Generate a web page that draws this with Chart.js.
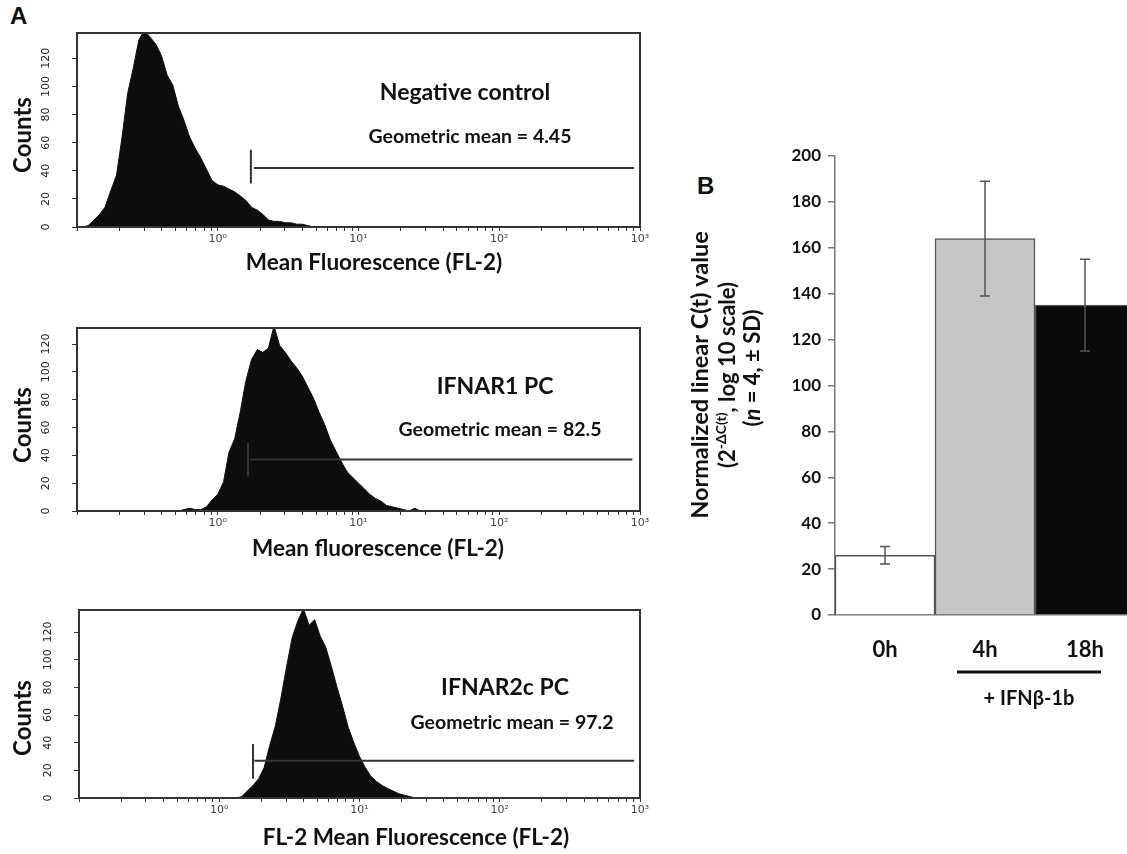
<!DOCTYPE html>
<html>
<head>
<meta charset="utf-8">
<script src="https://cdn.jsdelivr.net/npm/chart.js@4.4.1/dist/chart.umd.min.js"></script>
<style>
html, body { margin:0; padding:0; background:#fff; width:1127px; height:854px; overflow:hidden; }
canvas { position:absolute; }
.panel { position:absolute; font:bold 24px "Liberation Sans", Arial, sans-serif; color:#111; }
</style>
</head>
<body>
<div class="panel" style="left:10px;top:2px">A</div>
<div class="panel" style="left:697px;top:172px">B</div>
<canvas id="h1"></canvas>
<canvas id="h2"></canvas>
<canvas id="h3"></canvas>
<canvas id="bars"></canvas>
<script>
"use strict"

// ---- panel A: flow cytometry histograms (FL-2 channel, log scale) ----
var channels = [0.100, 0.110, 0.120, 0.132, 0.145, 0.158, 0.174, 0.191, 0.209, 0.229,
                0.251, 0.275, 0.302, 0.331, 0.363, 0.398, 0.437, 0.479, 0.525, 0.575,
                0.631, 0.692, 0.759, 0.832, 0.912, 1.00, 1.10, 1.20, 1.32, 1.45,
                1.58, 1.74, 1.91, 2.09, 2.29, 2.51, 2.75, 3.02, 3.31, 3.63,
                3.98, 4.37, 4.79, 5.25, 5.75, 6.31, 6.92, 7.59, 8.32, 9.12,
                10.0, 11.0, 12.0, 13.2, 14.5, 15.8, 17.4, 19.1, 20.9, 22.9,
                25.1, 27.5, 30.2, 33.1, 36.3, 39.8];

var negCounts = [0, 0, 1, 5, 9, 14, 26, 37, 64, 95,
                 113, 133, 140, 135, 130, 122, 108, 101, 86, 76,
                 64, 56, 49, 41, 33, 30, 29, 27, 25, 22,
                 19, 14, 12, 9, 5, 4, 4, 3, 3, 2,
                 2, 1, 0, 0, 0, 0, 0, 0, 0, 0,
                 0, 0, 0, 0, 0, 0, 0, 0, 0, 0,
                 0, 0, 0, 0, 0, 0];

var ifnar1Counts = [0, 0, 0, 0, 0, 0, 0, 0, 0, 0,
                    0, 0, 0, 0, 0, 0, 0, 0, 0, 1,
                    2, 1, 1, 3, 8, 12, 21, 42, 52, 72,
                    93, 109, 116, 114, 117, 133, 119, 114, 108, 103,
                    97, 89, 81, 71, 62, 51, 43, 35, 28, 24,
                    20, 16, 12, 9, 7, 4, 3, 2, 1, 0,
                    2, 0, 0, 0, 0, 0];

var ifnar2Counts = [0, 0, 0, 0, 0, 0, 0, 0, 0, 0,
                    0, 0, 0, 0, 0, 0, 0, 0, 0, 0,
                    0, 0, 0, 0, 0, 0, 0, 0, 0, 1,
                    5, 9, 14, 22, 38, 52, 72, 95, 116, 128,
                    137, 125, 129, 117, 109, 95, 80, 66, 51, 40,
                    30, 22, 16, 12, 9, 7, 5, 3, 2, 1,
                    0, 0, 0, 0, 0, 0];

var sampleNames = ["Negative control", "IFNAR1 PC", "IFNAR2c PC"];
var geoMeans = ["4.45", "82.5", "97.2"];
var xTitles = ["Mean Fluorescence (FL-2)", "Mean fluorescence (FL-2)", "FL-2 Mean Fluorescence (FL-2)"];
var countTicks = [0, 20, 40, 60, 80, 100, 120];
var decadeLabels = { 1: "10\u2070", 10: "10\u00b9", 100: "10\u00b2", 1000: "10\u00b3" };

// marker gate (M1) for each histogram
var gateBar = [1.72, 1.64, 1.74];
var gateStart = [1.81, 1.70, 1.78];
var gateEnd = [906, 883, 908];
var gateLevel = [42, 37, 27];
var gateLow = [31, 25, 14];
var gateHigh = [55, 49, 39];

// ---- panel B: qPCR bars ----
var timeLabels = ["0h", "4h", "18h"];
var ctMeans = [26, 164, 135];
var ctSD = [3.8, 25, 20];
var barColors = ["#ffffff", "#c6c6c6", "#0a0a0a"];

var countSeries = [negCounts, ifnar1Counts, ifnar2Counts];

// page placement of the three histogram frames
var panelLayout = [
    {canvas: "h1", top: 0,   height: 282, areaTop: 33,  areaBottom: 227, frameLeft: 77, ymax: 138,   countsY: 135, nameXY: [465, 93],  meanXY: [470, 137], titleXY: [374, 263]},
    {canvas: "h2", top: 285, height: 285, areaTop: 328, areaBottom: 511, frameLeft: 77, ymax: 131.5, countsY: 425, nameXY: [495, 387], meanXY: [500, 430], titleXY: [378, 549]},
    {canvas: "h3", top: 572, height: 282, areaTop: 610, areaBottom: 798, frameLeft: 79, ymax: 136,   countsY: 718, nameXY: [505, 688], meanXY: [512, 723], titleXY: [416, 838]}
];

var FONT = "Lato, 'Open Sans', sans-serif";

function logTicks(){
    var arr = [];
    for (var d = -1; d < 3; d++){
        for (var m = 1; m < 10; m++){
            arr.push({value: m * Math.pow(10, d)});
        }
    }
    arr.push({value: 1000});
    return arr;
}

function histDeco(i){
    var L = panelLayout[i];
    return {
        id: "histDeco" + i,
        afterDraw: function(chart){
            var ctx = chart.ctx;
            var a = chart.chartArea;
            var y = chart.scales.y;
            var off = L.top;
            ctx.save();
            // frame
            ctx.strokeStyle = "#333";
            ctx.lineWidth = 2;
            ctx.strokeRect(a.left, a.top, a.right - a.left, a.bottom - a.top);

            // rotated count labels
            ctx.fillStyle = "#222";
            ctx.font = "11px 'DejaVu Sans'";
            ctx.textAlign = "center";
            ctx.textBaseline = "middle";
            for (var k in countTicks){
                var py = y.getPixelForValue(countTicks[k]);
                ctx.save();
                ctx.translate(a.left - 31, py);
                ctx.rotate(-Math.PI / 2);
                ctx.fillText(String(countTicks[k]), 0, 0);
                ctx.restore();
            }

            // Counts
            ctx.fillStyle = "#111";
            ctx.font = "bold 24px " + FONT;
            ctx.save();
            ctx.translate(23, L.countsY - off);
            ctx.rotate(-Math.PI / 2);
            ctx.fillText("Counts", 0, 0);
            ctx.restore();

            // sample name + geometric mean
            ctx.font = "bold 23px " + FONT;
            ctx.fillText(sampleNames[i], L.nameXY[0], L.nameXY[1] - off);
            ctx.font = "bold 19.5px " + FONT;
            ctx.fillText("Geometric mean = " + geoMeans[i], L.meanXY[0], L.meanXY[1] - off);

            // x title
            ctx.font = "bold 22.5px " + FONT;
            ctx.fillText(xTitles[i], L.titleXY[0], L.titleXY[1] - off);
            ctx.restore();
        }
    };
}

function histChart(i){
    var L = panelLayout[i];
    var cv = document.getElementById(L.canvas);
    cv.width = 660;
    cv.height = L.height;
    cv.style.left = "0px";
    cv.style.top = L.top + "px";

    var counts = countSeries[i];
    var pts = [];
    for (var k in channels){
        pts.push({x: channels[k], y: counts[k]});
    }

    return new Chart(cv, {
        type: "line",
        data: {
            datasets: [{
                data: [{x: gateStart[i], y: gateLevel[i]}, {x: gateEnd[i], y: gateLevel[i]}],
                borderColor: "#333",
                borderWidth: 2,
                pointRadius: 0,
                fill: false
            }, {
                data: [{x: gateBar[i], y: gateLow[i]}, {x: gateBar[i], y: gateHigh[i]}],
                borderColor: "#333",
                borderWidth: 2,
                pointRadius: 0,
                fill: false
            }, {
                data: pts,
                borderColor: "#111",
                borderWidth: 1,
                backgroundColor: "#0d0d0d",
                pointRadius: 0,
                tension: 0,
                fill: "origin"
            }]
        },
        options: {
            responsive: false,
            animation: false,
            events: [],
            layout: {padding: {top: L.areaTop - L.top, right: 20, left: 0, bottom: 0}},
            plugins: {legend: {display: false}, tooltip: {enabled: false}},
            scales: {
                x: {
                    type: "logarithmic",
                    min: 0.1,
                    max: 1000,
                    border: {display: false},
                    grid: {drawOnChartArea: false, tickLength: 4, color: "#333"},
                    afterBuildTicks: function(scale){ scale.ticks = logTicks(); },
                    afterFit: function(scale){ scale.height = L.height - (L.areaBottom - L.top); },
                    ticks: {
                        autoSkip: false,
                        maxRotation: 0,
                        padding: 2,
                        color: "#444",
                        font: {family: "'DejaVu Sans'", size: 11},
                        callback: function(v){ return decadeLabels[v] || ""; }
                    }
                },
                y: {
                    min: 0,
                    max: L.ymax,
                    border: {display: false},
                    grid: {drawOnChartArea: false, tickLength: 5, color: "#333"},
                    afterBuildTicks: function(scale){
                        scale.ticks = countTicks.map(function(v){ return {value: v}; });
                    },
                    afterFit: function(scale){ scale.width = L.frameLeft; },
                    ticks: {display: false}
                }
            }
        },
        plugins: [histDeco(i)]
    });
}

for (var p = 0; p < 3; p++){
    histChart(p);
}

// ---- panel B ----
var B_LEFT = 680, B_TOP = 130, B_W = 460, B_H = 600;
var barCv = document.getElementById("bars");
barCv.width = B_W;
barCv.height = B_H;
barCv.style.left = B_LEFT + "px";
barCv.style.top = B_TOP + "px";

function drawRuns(ctx, runs, cx, cy){
    // runs: [text, font, baseline shift]; drawn centred on (cx, cy) after rotation
    var total = 0, widths = [];
    for (var r in runs){
        ctx.font = runs[r][1];
        widths.push(ctx.measureText(runs[r][0]).width);
        total += widths[r];
    }
    ctx.save();
    ctx.translate(cx, cy);
    ctx.rotate(-Math.PI / 2);
    ctx.textAlign = "left";
    var x = -total / 2;
    for (var r in runs){
        ctx.font = runs[r][1];
        ctx.fillText(runs[r][0], x, runs[r][2]);
        x += widths[r];
    }
    ctx.restore();
}

var barDeco = {
    id: "barDeco",
    afterDatasetsDraw: function(chart){
        var ctx = chart.ctx;
        var xs = chart.scales.x, ys = chart.scales.y;
        ctx.save();
        ctx.strokeStyle = "#555";
        ctx.lineWidth = 1.5;
        for (var i in ctMeans){
            var px = xs.getPixelForValue(Number(i));
            var top = ys.getPixelForValue(ctMeans[i] + ctSD[i]);
            var bot = ys.getPixelForValue(ctMeans[i] - ctSD[i]);
            ctx.beginPath();
            ctx.moveTo(px, top); ctx.lineTo(px, bot);
            ctx.moveTo(px - 5, top); ctx.lineTo(px + 5, top);
            ctx.moveTo(px - 5, bot); ctx.lineTo(px + 5, bot);
            ctx.stroke();
        }
        ctx.restore();
    },
    afterDraw: function(chart){
        var ctx = chart.ctx;
        var a = chart.chartArea;
        var xs = chart.scales.x;
        ctx.save();
        ctx.fillStyle = "#111";
        ctx.textAlign = "center";
        ctx.textBaseline = "middle";

        // treatment bracket
        var x1 = xs.getPixelForValue(1) - 28, x2 = xs.getPixelForValue(2) + 16;
        ctx.strokeStyle = "#111";
        ctx.lineWidth = 3;
        ctx.beginPath();
        ctx.moveTo(x1, a.bottom + 57);
        ctx.lineTo(x2, a.bottom + 57);
        ctx.stroke();
        ctx.font = "bold 20px " + FONT;
        ctx.fillText("+ IFN\u03b2-1b", (x1 + x2) / 2, a.bottom + 84);

        // y title, three rotated lines
        var f1 = "bold 22px " + FONT;
        drawRuns(ctx, [["Normalized linear C(t) value", "bold 23.5px " + FONT, 0]], 700 - B_LEFT, 375 - B_TOP);
        drawRuns(ctx, [["(2", f1, 0], ["-\u0394C(t)", "bold 14px " + FONT, -7], [", log 10 scale)", f1, 0]], 728 - B_LEFT, 375 - B_TOP);
        drawRuns(ctx, [["(", f1, 0], ["n", "italic bold 22px " + FONT, 0], [" = 4, \u00b1 SD)", f1, 0]], 753 - B_LEFT, 368 - B_TOP);

        ctx.restore();
    }
};

new Chart(barCv, {
    type: "bar",
    data: {
        labels: timeLabels,
        datasets: [{
            data: ctMeans,
            backgroundColor: barColors,
            borderColor: "#555",
            borderWidth: 1.5,
            barPercentage: 1,
            categoryPercentage: 1
        }]
    },
    options: {
        responsive: false,
        animation: false,
        events: [],
        layout: {padding: {top: 156 - B_TOP, right: B_LEFT + B_W - 1135, left: 0, bottom: 0}},
        plugins: {legend: {display: false}, tooltip: {enabled: false}},
        scales: {
            x: {
                grid: {display: false, drawTicks: false},
                border: {color: "#777", width: 1.5},
                afterFit: function(scale){ scale.height = B_H - (615 - B_TOP); },
                ticks: {color: "#111", padding: 22, font: {family: FONT, weight: "bold", size: 22}}
            },
            y: {
                min: 0,
                max: 200,
                border: {color: "#777", width: 1.5},
                grid: {drawOnChartArea: false, tickLength: 7, color: "#777", lineWidth: 1.5},
                afterFit: function(scale){ scale.width = 835 - B_LEFT; },
                ticks: {stepSize: 20, padding: 7, color: "#111", font: {family: FONT, weight: "bold", size: 17}}
            }
        }
    },
    plugins: [barDeco]
});
</script>
</body>
</html>
